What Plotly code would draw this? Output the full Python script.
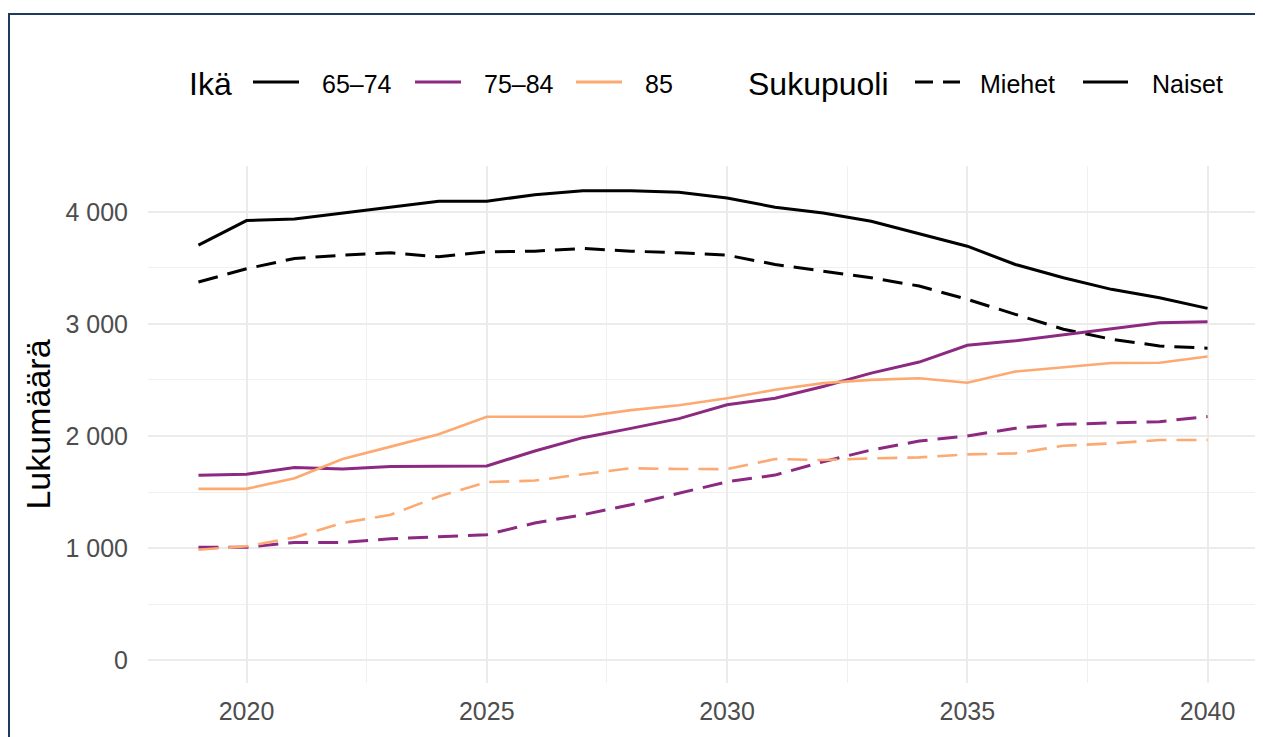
import plotly.graph_objects as go

years = list(range(2019, 2041))

# Miehet (dashed)
m_65_74 = [3374, 3493, 3585, 3614, 3635, 3600, 3644, 3650, 3674, 3650, 3635,
           3614, 3531, 3472, 3412, 3338, 3220, 3086, 2953, 2864, 2804, 2783]
m_75_84 = [1006, 1006, 1050, 1050, 1083, 1104, 1119, 1223, 1297, 1386, 1490,
           1591, 1651, 1770, 1875, 1955, 2000, 2069, 2104, 2119, 2128, 2173]
m_85 = [985, 1015, 1095, 1223, 1297, 1460, 1588, 1602, 1659, 1712, 1705,
        1704, 1794, 1785, 1800, 1809, 1836, 1845, 1913, 1934, 1964, 1964]

# Naiset (solid)
n_65_74 = [3703, 3923, 3938, 3991, 4042, 4095, 4095, 4154, 4190, 4190, 4175,
           4125, 4042, 3991, 3917, 3804, 3694, 3531, 3412, 3309, 3234, 3139]
n_75_84 = [1650, 1659, 1718, 1706, 1727, 1727, 1733, 1866, 1985, 2068, 2155,
           2278, 2337, 2442, 2561, 2660, 2810, 2850, 2905, 2958, 3010, 3020]
n_85 = [1528, 1528, 1623, 1795, 1905, 2015, 2172, 2172, 2172, 2231, 2275,
        2337, 2412, 2472, 2501, 2516, 2475, 2575, 2615, 2652, 2654, 2710]

age_title = "Ikä"
sex_title = "Sukupuoli"
age_labels = ["65–74", "75–84", "85"]
sex_labels = ["Miehet", "Naiset"]
age_colors = ["#000000", "#8C2981", "#FCA972"]
age_widths = [3, 3, 2.6]

y_ticks = [0, 1000, 2000, 3000, 4000]
y_ticktext = ["0", "1 000", "2 000", "3 000", "4 000"]
x_ticks = [2020, 2025, 2030, 2035, 2040]
y_title = "Lukumäärä"

DASH = "20px,10px"
FONT = "Liberation Sans, Arial, sans-serif"

series = {
    ("65–74", "Miehet"): m_65_74, ("75–84", "Miehet"): m_75_84, ("85", "Miehet"): m_85,
    ("65–74", "Naiset"): n_65_74, ("75–84", "Naiset"): n_75_84, ("85", "Naiset"): n_85,
}

fig = go.Figure()
for i, age in enumerate(age_labels):
    for sex in sex_labels:
        fig.add_trace(go.Scatter(
            x=years, y=series[(age, sex)], mode="lines",
            line=dict(color=age_colors[i], width=age_widths[i],
                      dash=DASH if sex == "Miehet" else "solid"),
            showlegend=False, name=f"{age} {sex}",
        ))

# page is rendered with an 8px body margin: work in page coords and shift
OFF = 8
W, H = 1255, 729
L, R, T, B = 140, 5, 158, 54
pw, ph = W - L - R, H - T - B

def px_x(p):
    return (p - OFF - L) / pw

def px_y(p):
    return (H - B - (p - OFF)) / ph

# ---- manual legend (keys + labels) ----
LEG_Y_TEXT = 84
LEG_Y_LINE = 82
shapes = []
annotations = []

def add_text(txt, left, size):
    annotations.append(dict(
        text=txt, x=px_x(left), y=px_y(LEG_Y_TEXT), xref="paper", yref="paper",
        xanchor="left", yanchor="middle", showarrow=False,
        font=dict(size=size, color="#000000", family=FONT), xshift=-1,
    ))

def add_key(x0, x1, color, dash):
    shapes.append(dict(
        type="line", xref="paper", yref="paper",
        x0=px_x(x0), x1=px_x(x1), y0=px_y(LEG_Y_LINE), y1=px_y(LEG_Y_LINE),
        line=dict(color=color, width=3, dash=dash),
    ))

add_text(age_title, 188, 32)
age_key_x = [253, 415, 576]
age_text_x = [321, 483, 644]
for i, lab in enumerate(age_labels):
    add_key(age_key_x[i], age_key_x[i] + 46, age_colors[i], "solid")
    add_text(lab, age_text_x[i], 25)

add_text(sex_title, 747, 32)
sex_key_x = [915, 1083]
sex_text_x = [979, 1151]
sex_dash = ["18px,10px", "solid"]
for i, lab in enumerate(sex_labels):
    add_key(sex_key_x[i], sex_key_x[i] + 45, "#000000", sex_dash[i])
    add_text(lab, sex_text_x[i], 25)

# frame around the image
shapes.append(dict(
    type="rect", xref="paper", yref="paper",
    x0=px_x(9), x1=px_x(1262), y0=px_y(760), y1=px_y(14),
    line=dict(color="#1F3B5C", width=2), fillcolor="rgba(0,0,0,0)", layer="above",
))

fig.update_layout(
    width=W, height=H,
    margin=dict(l=L, r=R, t=T, b=B),
    paper_bgcolor="white", plot_bgcolor="white",
    font=dict(family=FONT, color="#000000"),
    showlegend=False,
    xaxis=dict(
        range=[2017.95, 2041.05], tickvals=x_ticks, ticktext=[str(v) for v in x_ticks],
        showgrid=True, gridcolor="#EBEBEB", gridwidth=2, zeroline=False,
        showline=False, ticks="", tickfont=dict(size=25, color="#4D4D4D", family=FONT),
        ticklabelstandoff=11,
        minor=dict(tickvals=[2022.5, 2027.5, 2032.5, 2037.5], showgrid=True,
                   gridcolor="#F0F0F0", gridwidth=1),
    ),
    yaxis=dict(
        range=[-205, 4410], tickvals=y_ticks, ticktext=y_ticktext,
        showgrid=True, gridcolor="#EBEBEB", gridwidth=2, zeroline=False,
        showline=False, ticks="", tickfont=dict(size=25, color="#4D4D4D", family=FONT),
        ticklabelstandoff=19,
        title=dict(text=y_title, font=dict(size=34, color="#000000", family=FONT),
                   standoff=4),
        minor=dict(tickvals=[500, 1500, 2500, 3500], showgrid=True,
                   gridcolor="#F0F0F0", gridwidth=1),
    ),
    shapes=shapes,
    annotations=annotations,
)

fig.write_html("out.html")
